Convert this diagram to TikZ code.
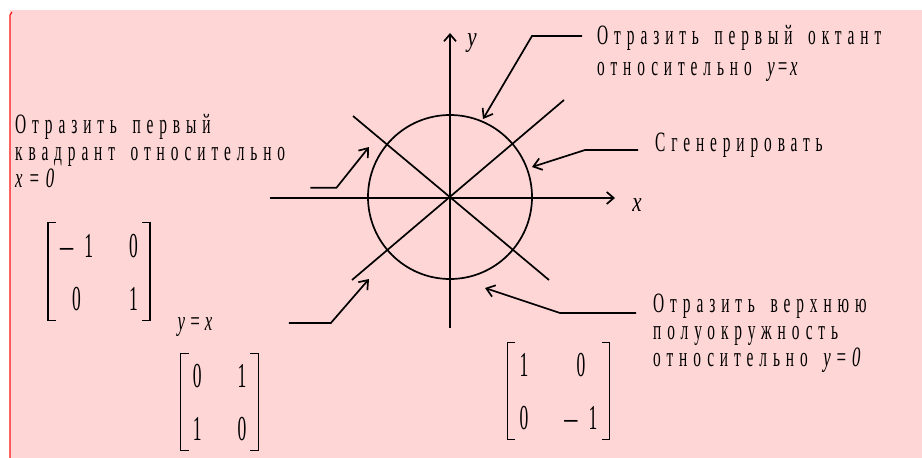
\documentclass[tikz,border=0pt]{standalone}
\usepackage{fontspec}
\setmainfont{Liberation Serif}
\newfontfamily\lblfont{Liberation Serif}[FakeStretch=0.55, LetterSpace=21, WordSpace=1.6]
\newfontfamily\plainfont{Liberation Serif}[FakeStretch=0.6]
\newfontfamily\axisfont{Liberation Serif}[FakeStretch=0.75]
\newfontfamily\mtxfont{Liberation Serif}[FakeStretch=0.5]
\usetikzlibrary{arrows.meta, matrix}
\definecolor{bgpink}{RGB}{255,214,214}
\definecolor{edgered}{RGB}{250,20,20}
\newcommand{\varit}[1]{{\plainfont\itshape #1}}
\newcommand{\mminus}{{\axisfont\fontsize{35}{35}\selectfont –}}
\tikzset{
  note/.style={
    anchor=north west,
    inner sep=0pt,
    align=left,
    font=\lblfont\fontsize{28}{27}\selectfont
  },
  axis/.style={
    -{Straight Barb[length=7pt,width=12pt]},
    line width=1.7pt
  },
  axislabel/.style={
    font=\axisfont\itshape\fontsize{28}{28}\selectfont
  },
  pointer/.style={
    -{Straight Barb[length=8pt,width=12pt]},
    line width=1.7pt
  },
  curve/.style={
    line width=1.7pt
  },
  mtx/.style={
    matrix of nodes,
    inner xsep=12pt,
    inner ysep=10pt,
    column sep=36pt,
    row sep=29pt,
    nodes={inner sep=0pt, text height=24pt, text depth=0pt,
      font=\mtxfont\fontsize{35}{35}\selectfont}
  },
  bracket/.style={
    line width=1.3pt
  }
}

\begin{document}
\begin{tikzpicture}[x=1pt, y=-1pt]

% Background
\useasboundingbox (0,0) rectangle (922,458);
\fill[bgpink] (10,10) rectangle (922,458);
\draw[edgered, line width=1.2pt] (10,458) -- (10,15) -- (12,12);

% Axes, circle and diagonals
\coordinate (o) at (450,197);
\draw[axis] (270,198) -- (615,198);
\draw[axis] (450,328) -- (450,33);
\node[axislabel] (xlab) at (637,205) {x};
\node[axislabel] (ylab) at (472,43) {y};
\draw[curve] (o) circle (82pt);
\draw[curve] (353,116) -- (549,280);
\draw[curve] (352,280) -- (564,100);

% Labels
\node[note, font=\lblfont\fontsize{28}{31}\selectfont] (lblOct) at (597,25) {
  Отразить первый октант \\
  относительно \varit{y\hspace{2pt}=\hspace{2pt}x}
};
\node[note] (lblGen) at (655,133) {Сгенерировать};
\node[note] (lblUpper) at (653,294) {
  Отразить верхнюю \\
  полуокружность \\
  относительно \varit{y\hspace{5pt}=\hspace{5pt}0}
};
\node[note] (lblQuad) at (15,114) {
  Отразить первый \\
  квадрант относительно \\
  \varit{x\hspace{6pt}=\hspace{6pt}0}
};
\node[font=\plainfont\itshape\fontsize{28}{28}\selectfont] (lblYX) at (195,327) {y = x};

% Matrices
\matrix[mtx] (mA) at (99,271.5) {
  \mminus\hspace{11pt}1 & 0 \\
  0 & 1 \\
};
\matrix[mtx] (mB) at (219.5,402) {
  0 & 1 \\
  1 & 0 \\
};
\matrix[mtx] (mC) at (558.5,391) {
  1 & 0 \\
  0 & \mminus\hspace{11pt}1 \\
};
\foreach \m in {mA,mB,mC} {
  \draw[bracket] ([xshift=8pt]\m.north west) -- (\m.north west)
    -- (\m.south west) -- ([xshift=8pt]\m.south west);
  \draw[bracket] ([xshift=-8pt]\m.north east) -- (\m.north east)
    -- (\m.south east) -- ([xshift=-8pt]\m.south east);
}

% Pointers
\coordinate (tOct) at (483,119);
\coordinate (tGen) at (532,167);
\coordinate (tUpper) at (485,288);
\coordinate (tQuad) at (369,147);
\coordinate (tDiag) at (369,279);
\draw[pointer] ([shift={(-15,11)}]lblOct.north west) -- ++(-50,0) -- (tOct);
\draw[pointer] ([shift={(-17,17)}]lblGen.north west) -- ++(-53,0) -- (tGen);
\draw[pointer] ([shift={(-17,19)}]lblUpper.north west) -- ++(-76,0) -- (tUpper);
\draw[pointer] ([xshift=25pt]lblQuad.south east) -- ++(26,0) -- (tQuad);
\draw[pointer] ([shift={(73,-4)}]lblYX.east) -- ++(42,0) -- (tDiag);

\end{tikzpicture}
\end{document}
